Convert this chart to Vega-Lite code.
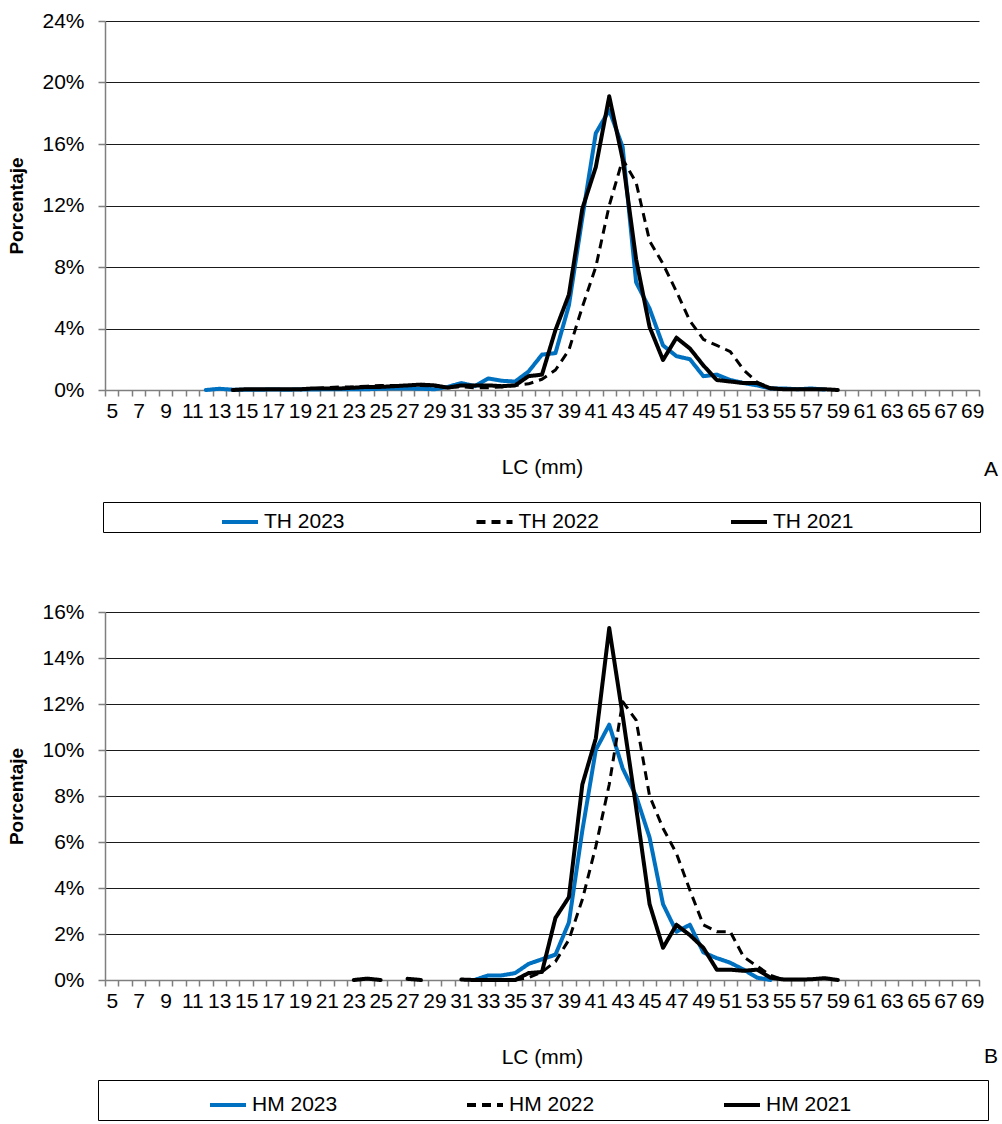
{
  "$schema": "https://vega.github.io/schema/vega-lite/v6.json",
  "padding": {"left": 7, "top": 10, "right": 5, "bottom": 0},
  "bounds": "flush",
  "spacing": 222,
  "config": {
    "font": "Liberation Sans",
    "view": {"stroke": null},
    "axis": {"labelFontSize": 21, "labelColor": "#000", "titleFontSize": 21, "titleColor": "#000", "titleFontWeight": "normal", "domainColor": "#7f7f7f", "domainWidth": 1.5, "tickColor": "#7f7f7f", "tickWidth": 1.5, "gridColor": "#1a1a1a", "gridWidth": 1},
    "axisY": {"titleFontWeight": "bold", "titleFontSize": 19, "tickSize": 7, "labelPadding": 14, "titlePadding": 15, "grid": true},
    "axisX": {"grid": false, "tickSize": 6, "labelPadding": 4, "titlePadding": 35, "labelAngle": 0, "labelOverlap": false, "tickBand": "extent"},
    "legend": {"orient": "none", "direction": "horizontal", "strokeColor": "#000", "fillColor": "#fff", "symbolType": "stroke", "symbolSize": 1296, "symbolStrokeWidth": 4, "labelFontSize": 21, "labelColor": "#000", "labelOffset": 4, "titleOrient": "left", "titleFontSize": 21, "titlePadding": 0, "labelLimit": 500, "titleLimit": 500}
  },
  "resolve": {"scale": {"color": "independent", "strokeDash": "independent"}, "legend": {"color": "independent", "strokeDash": "independent"}},
  "datasets": {
    "a": [
      {"s":"TH 2023","lc":12,"p":0},{"s":"TH 2023","lc":13,"p":0.08},{"s":"TH 2023","lc":14,"p":0.02},{"s":"TH 2023","lc":15,"p":0.02},{"s":"TH 2023","lc":16,"p":0.02},{"s":"TH 2023","lc":17,"p":0.03},{"s":"TH 2023","lc":18,"p":0.02},{"s":"TH 2023","lc":19,"p":0.03},{"s":"TH 2023","lc":20,"p":0.03},{"s":"TH 2023","lc":21,"p":0.05},{"s":"TH 2023","lc":22,"p":0.05},{"s":"TH 2023","lc":23,"p":0.05},{"s":"TH 2023","lc":24,"p":0.05},{"s":"TH 2023","lc":25,"p":0.08},{"s":"TH 2023","lc":26,"p":0.1},{"s":"TH 2023","lc":27,"p":0.1},{"s":"TH 2023","lc":28,"p":0.08},{"s":"TH 2023","lc":29,"p":0.05},{"s":"TH 2023","lc":30,"p":0.2},{"s":"TH 2023","lc":31,"p":0.45},{"s":"TH 2023","lc":32,"p":0.25},{"s":"TH 2023","lc":33,"p":0.75},{"s":"TH 2023","lc":34,"p":0.6},{"s":"TH 2023","lc":35,"p":0.55},{"s":"TH 2023","lc":36,"p":1.2},{"s":"TH 2023","lc":37,"p":2.3},{"s":"TH 2023","lc":38,"p":2.4},{"s":"TH 2023","lc":39,"p":5.5},{"s":"TH 2023","lc":40,"p":11.2},{"s":"TH 2023","lc":41,"p":16.7},{"s":"TH 2023","lc":42,"p":18.2},{"s":"TH 2023","lc":43,"p":15.8},{"s":"TH 2023","lc":44,"p":7.0},{"s":"TH 2023","lc":45,"p":5.3},{"s":"TH 2023","lc":46,"p":2.9},{"s":"TH 2023","lc":47,"p":2.2},{"s":"TH 2023","lc":48,"p":2.0},{"s":"TH 2023","lc":49,"p":0.9},{"s":"TH 2023","lc":50,"p":1.0},{"s":"TH 2023","lc":51,"p":0.65},{"s":"TH 2023","lc":52,"p":0.45},{"s":"TH 2023","lc":53,"p":0.3},{"s":"TH 2023","lc":54,"p":0.1},{"s":"TH 2023","lc":55,"p":0.1},{"s":"TH 2023","lc":56,"p":0.05},{"s":"TH 2023","lc":57,"p":0.1},{"s":"TH 2023","lc":58,"p":0.03},
      {"s":"TH 2022","lc":19,"p":0.02},{"s":"TH 2022","lc":20,"p":0.1},{"s":"TH 2022","lc":21,"p":0.15},{"s":"TH 2022","lc":22,"p":0.2},{"s":"TH 2022","lc":23,"p":0.2},{"s":"TH 2022","lc":24,"p":0.25},{"s":"TH 2022","lc":25,"p":0.3},{"s":"TH 2022","lc":26,"p":0.3},{"s":"TH 2022","lc":27,"p":0.3},{"s":"TH 2022","lc":28,"p":0.3},{"s":"TH 2022","lc":29,"p":0.25},{"s":"TH 2022","lc":30,"p":0.2},{"s":"TH 2022","lc":31,"p":0.2},{"s":"TH 2022","lc":32,"p":0.15},{"s":"TH 2022","lc":33,"p":0.15},{"s":"TH 2022","lc":34,"p":0.2},{"s":"TH 2022","lc":35,"p":0.3},{"s":"TH 2022","lc":36,"p":0.4},{"s":"TH 2022","lc":37,"p":0.7},{"s":"TH 2022","lc":38,"p":1.3},{"s":"TH 2022","lc":39,"p":2.6},{"s":"TH 2022","lc":40,"p":5.4},{"s":"TH 2022","lc":41,"p":8.0},{"s":"TH 2022","lc":42,"p":12.0},{"s":"TH 2022","lc":43,"p":15.0},{"s":"TH 2022","lc":44,"p":13.5},{"s":"TH 2022","lc":45,"p":9.7},{"s":"TH 2022","lc":46,"p":8.2},{"s":"TH 2022","lc":47,"p":6.4},{"s":"TH 2022","lc":48,"p":4.5},{"s":"TH 2022","lc":49,"p":3.3},{"s":"TH 2022","lc":50,"p":2.9},{"s":"TH 2022","lc":51,"p":2.5},{"s":"TH 2022","lc":52,"p":1.3},{"s":"TH 2022","lc":53,"p":0.5},{"s":"TH 2022","lc":54,"p":0.15},{"s":"TH 2022","lc":55,"p":0.05},
      {"s":"TH 2021","lc":14,"p":0},{"s":"TH 2021","lc":15,"p":0.05},{"s":"TH 2021","lc":16,"p":0.05},{"s":"TH 2021","lc":17,"p":0.05},{"s":"TH 2021","lc":18,"p":0.05},{"s":"TH 2021","lc":19,"p":0.05},{"s":"TH 2021","lc":20,"p":0.1},{"s":"TH 2021","lc":21,"p":0.1},{"s":"TH 2021","lc":22,"p":0.1},{"s":"TH 2021","lc":23,"p":0.15},{"s":"TH 2021","lc":24,"p":0.2},{"s":"TH 2021","lc":25,"p":0.2},{"s":"TH 2021","lc":26,"p":0.25},{"s":"TH 2021","lc":27,"p":0.3},{"s":"TH 2021","lc":28,"p":0.35},{"s":"TH 2021","lc":29,"p":0.3},{"s":"TH 2021","lc":30,"p":0.15},{"s":"TH 2021","lc":31,"p":0.3},{"s":"TH 2021","lc":32,"p":0.3},{"s":"TH 2021","lc":33,"p":0.3},{"s":"TH 2021","lc":34,"p":0.25},{"s":"TH 2021","lc":35,"p":0.3},{"s":"TH 2021","lc":36,"p":0.9},{"s":"TH 2021","lc":37,"p":1.0},{"s":"TH 2021","lc":38,"p":3.9},{"s":"TH 2021","lc":39,"p":6.2},{"s":"TH 2021","lc":40,"p":11.8},{"s":"TH 2021","lc":41,"p":14.5},{"s":"TH 2021","lc":42,"p":19.1},{"s":"TH 2021","lc":43,"p":15.0},{"s":"TH 2021","lc":44,"p":8.5},{"s":"TH 2021","lc":45,"p":4.1},{"s":"TH 2021","lc":46,"p":1.95},{"s":"TH 2021","lc":47,"p":3.4},{"s":"TH 2021","lc":48,"p":2.7},{"s":"TH 2021","lc":49,"p":1.6},{"s":"TH 2021","lc":50,"p":0.65},{"s":"TH 2021","lc":51,"p":0.55},{"s":"TH 2021","lc":52,"p":0.45},{"s":"TH 2021","lc":53,"p":0.45},{"s":"TH 2021","lc":54,"p":0.1},{"s":"TH 2021","lc":55,"p":0.05},{"s":"TH 2021","lc":56,"p":0.05},{"s":"TH 2021","lc":57,"p":0.05},{"s":"TH 2021","lc":58,"p":0.05},{"s":"TH 2021","lc":59,"p":0}
    ],
    "b": [
      {"s":"HM 2023","g":1,"lc":32,"p":0},{"s":"HM 2023","g":1,"lc":33,"p":0.2},{"s":"HM 2023","g":1,"lc":34,"p":0.2},{"s":"HM 2023","g":1,"lc":35,"p":0.3},{"s":"HM 2023","g":1,"lc":36,"p":0.7},{"s":"HM 2023","g":1,"lc":37,"p":0.9},{"s":"HM 2023","g":1,"lc":38,"p":1.1},{"s":"HM 2023","g":1,"lc":39,"p":2.5},{"s":"HM 2023","g":1,"lc":40,"p":6.5},{"s":"HM 2023","g":1,"lc":41,"p":10.0},{"s":"HM 2023","g":1,"lc":42,"p":11.1},{"s":"HM 2023","g":1,"lc":43,"p":9.2},{"s":"HM 2023","g":1,"lc":44,"p":8.0},{"s":"HM 2023","g":1,"lc":45,"p":6.2},{"s":"HM 2023","g":1,"lc":46,"p":3.3},{"s":"HM 2023","g":1,"lc":47,"p":2.1},{"s":"HM 2023","g":1,"lc":48,"p":2.4},{"s":"HM 2023","g":1,"lc":49,"p":1.2},{"s":"HM 2023","g":1,"lc":50,"p":0.95},{"s":"HM 2023","g":1,"lc":51,"p":0.75},{"s":"HM 2023","g":1,"lc":52,"p":0.45},{"s":"HM 2023","g":1,"lc":53,"p":0.1},{"s":"HM 2023","g":1,"lc":54,"p":0},
      {"s":"HM 2022","g":1,"lc":35,"p":0},{"s":"HM 2022","g":1,"lc":36,"p":0.1},{"s":"HM 2022","g":1,"lc":37,"p":0.35},{"s":"HM 2022","g":1,"lc":38,"p":0.8},{"s":"HM 2022","g":1,"lc":39,"p":1.75},{"s":"HM 2022","g":1,"lc":40,"p":3.5},{"s":"HM 2022","g":1,"lc":41,"p":5.8},{"s":"HM 2022","g":1,"lc":42,"p":8.5},{"s":"HM 2022","g":1,"lc":43,"p":12.1},{"s":"HM 2022","g":1,"lc":44,"p":11.3},{"s":"HM 2022","g":1,"lc":45,"p":8.0},{"s":"HM 2022","g":1,"lc":46,"p":6.6},{"s":"HM 2022","g":1,"lc":47,"p":5.5},{"s":"HM 2022","g":1,"lc":48,"p":3.9},{"s":"HM 2022","g":1,"lc":49,"p":2.4},{"s":"HM 2022","g":1,"lc":50,"p":2.1},{"s":"HM 2022","g":1,"lc":51,"p":2.1},{"s":"HM 2022","g":1,"lc":52,"p":1.0},{"s":"HM 2022","g":1,"lc":53,"p":0.6},{"s":"HM 2022","g":1,"lc":54,"p":0.2},{"s":"HM 2022","g":1,"lc":55,"p":0},
      {"s":"HM 2021","g":1,"lc":23,"p":0},{"s":"HM 2021","g":1,"lc":24,"p":0.06},{"s":"HM 2021","g":1,"lc":25,"p":0},
      {"s":"HM 2021","g":2,"lc":27,"p":0.05},{"s":"HM 2021","g":2,"lc":28,"p":0},
      {"s":"HM 2021","g":3,"lc":31,"p":0.02},{"s":"HM 2021","g":3,"lc":32,"p":0},{"s":"HM 2021","g":3,"lc":33,"p":0},{"s":"HM 2021","g":3,"lc":34,"p":0},{"s":"HM 2021","g":3,"lc":35,"p":0},{"s":"HM 2021","g":3,"lc":36,"p":0.3},{"s":"HM 2021","g":3,"lc":37,"p":0.35},{"s":"HM 2021","g":3,"lc":38,"p":2.7},{"s":"HM 2021","g":3,"lc":39,"p":3.6},{"s":"HM 2021","g":3,"lc":40,"p":8.5},{"s":"HM 2021","g":3,"lc":41,"p":10.5},{"s":"HM 2021","g":3,"lc":42,"p":15.3},{"s":"HM 2021","g":3,"lc":43,"p":11.5},{"s":"HM 2021","g":3,"lc":44,"p":7.5},{"s":"HM 2021","g":3,"lc":45,"p":3.3},{"s":"HM 2021","g":3,"lc":46,"p":1.4},{"s":"HM 2021","g":3,"lc":47,"p":2.4},{"s":"HM 2021","g":3,"lc":48,"p":1.95},{"s":"HM 2021","g":3,"lc":49,"p":1.4},{"s":"HM 2021","g":3,"lc":50,"p":0.45},{"s":"HM 2021","g":3,"lc":51,"p":0.45},{"s":"HM 2021","g":3,"lc":52,"p":0.4},{"s":"HM 2021","g":3,"lc":53,"p":0.45},{"s":"HM 2021","g":3,"lc":54,"p":0.1},{"s":"HM 2021","g":3,"lc":55,"p":0.02},{"s":"HM 2021","g":3,"lc":56,"p":0.02},{"s":"HM 2021","g":3,"lc":57,"p":0.03},{"s":"HM 2021","g":3,"lc":58,"p":0.08},{"s":"HM 2021","g":3,"lc":59,"p":0}
    ]
  },
  "vconcat": [
    {
      "data": {"name": "a"},
      "width": 874,
      "height": 369,
      "title": {"text": "A", "orient": "bottom", "anchor": "end", "frame": "group", "fontSize": 21, "fontWeight": "normal", "color": "#000", "dx": 19, "dy": -74, "offset": 0},
      "encoding": {
        "x": {"field": "lc", "type": "ordinal", "title": "LC (mm)", "scale": {"type": "band", "paddingInner": 0, "paddingOuter": 0, "domain": [5,6,7,8,9,10,11,12,13,14,15,16,17,18,19,20,21,22,23,24,25,26,27,28,29,30,31,32,33,34,35,36,37,38,39,40,41,42,43,44,45,46,47,48,49,50,51,52,53,54,55,56,57,58,59,60,61,62,63,64,65,66,67,68,69]}, "axis": {"labelExpr": "datum.value % 2 == 1 ? datum.label : ''"}},
        "y": {"field": "p", "type": "quantitative", "title": "Porcentaje", "scale": {"domain": [0, 24], "nice": false}, "axis": {"values": [0, 4, 8, 12, 16, 20, 24], "labelExpr": "datum.value + '%'"}},
        "color": {"field": "s", "type": "nominal", "scale": {"domain": ["TH 2023", "TH 2022", "TH 2021"], "range": ["#0070C0", "#000000", "#000000"]}, "legend": {"title": "\u2800\u2800\u2800\u2800\u2800\u2800\u2800", "titlePadding": 12, "padding": 0, "legendX": -2, "legendY": 481, "columnPadding": 123.5, "labelExpr": "datum.label == 'TH 2021' ? datum.label + '\u00a0\u2800\u2800\u2800\u2800\u2800\u2800\u2800\u2800' : datum.label"}},
        "strokeDash": {"field": "s", "type": "nominal", "scale": {"domain": ["TH 2023", "TH 2022", "TH 2021"], "range": [[1, 0], [9, 6], [1, 0]]}, "legend": {"title": "\u2800\u2800\u2800\u2800\u2800\u2800\u2800", "titlePadding": 12, "padding": 0, "legendX": -2, "legendY": 481, "columnPadding": 123.5, "labelExpr": "datum.label == 'TH 2021' ? datum.label + '\u00a0\u2800\u2800\u2800\u2800\u2800\u2800\u2800\u2800' : datum.label"}}
      },
      "layer": [
        {"transform": [{"filter": "datum.s == 'TH 2023'"}], "mark": {"type": "line", "strokeWidth": 4, "strokeJoin": "round", "strokeCap": "round"}},
        {"transform": [{"filter": "datum.s == 'TH 2022'"}], "mark": {"type": "line", "strokeWidth": 3, "strokeJoin": "round"}},
        {"transform": [{"filter": "datum.s == 'TH 2021'"}], "mark": {"type": "line", "strokeWidth": 4, "strokeJoin": "round", "strokeCap": "round"}}
      ]
    },
    {
      "data": {"name": "b"},
      "width": 874,
      "height": 368,
      "title": {"text": "B", "orient": "bottom", "anchor": "end", "frame": "group", "fontSize": 21, "fontWeight": "normal", "color": "#000", "dx": 19, "dy": -75, "offset": 0},
      "encoding": {
        "x": {"field": "lc", "type": "ordinal", "title": "LC (mm)", "scale": {"type": "band", "paddingInner": 0, "paddingOuter": 0, "domain": [5,6,7,8,9,10,11,12,13,14,15,16,17,18,19,20,21,22,23,24,25,26,27,28,29,30,31,32,33,34,35,36,37,38,39,40,41,42,43,44,45,46,47,48,49,50,51,52,53,54,55,56,57,58,59,60,61,62,63,64,65,66,67,68,69]}, "axis": {"labelExpr": "datum.value % 2 == 1 ? datum.label : ''"}},
        "y": {"field": "p", "type": "quantitative", "title": "Porcentaje", "scale": {"domain": [0, 16], "nice": false}, "axis": {"values": [0, 2, 4, 6, 8, 10, 12, 14, 16], "labelExpr": "datum.value + '%'"}},
        "color": {"field": "s", "type": "nominal", "scale": {"domain": ["HM 2023", "HM 2022", "HM 2021"], "range": ["#0070C0", "#000000", "#000000"]}, "legend": {"title": "\u2800\u2800\u2800\u2800\u2800\u2800\u2800", "titlePadding": 0, "padding": 5, "legendX": -7, "legendY": 468, "columnPadding": 121, "labelExpr": "datum.label == 'HM 2021' ? datum.label + '\u00a0\u00a0\u2800\u2800\u2800\u2800\u2800\u2800\u2800\u2800' : datum.label"}},
        "strokeDash": {"field": "s", "type": "nominal", "scale": {"domain": ["HM 2023", "HM 2022", "HM 2021"], "range": [[1, 0], [9, 6], [1, 0]]}, "legend": {"title": "\u2800\u2800\u2800\u2800\u2800\u2800\u2800", "titlePadding": 0, "padding": 5, "legendX": -7, "legendY": 468, "columnPadding": 121, "labelExpr": "datum.label == 'HM 2021' ? datum.label + '\u00a0\u00a0\u2800\u2800\u2800\u2800\u2800\u2800\u2800\u2800' : datum.label"}}
      },
      "layer": [
        {"transform": [{"filter": "datum.s == 'HM 2023'"}], "mark": {"type": "line", "strokeWidth": 4, "strokeJoin": "round", "strokeCap": "round"}},
        {"transform": [{"filter": "datum.s == 'HM 2022'"}], "mark": {"type": "line", "strokeWidth": 3, "strokeJoin": "round"}},
        {"transform": [{"filter": "datum.s == 'HM 2021'"}], "mark": {"type": "line", "strokeWidth": 4, "strokeJoin": "round", "strokeCap": "round"}, "encoding": {"detail": {"field": "g", "type": "nominal"}}}
      ]
    }
  ]
}
